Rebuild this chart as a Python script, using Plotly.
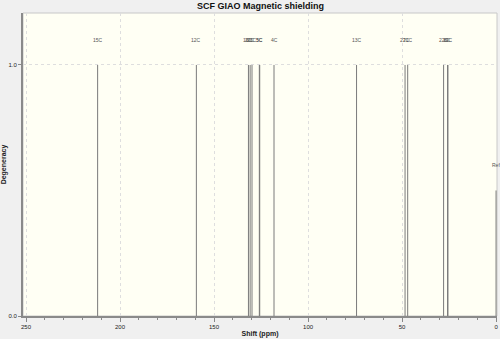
import plotly.graph_objects as go

# Data
shifts = [211.9, 159.4, 131.7, 130.8, 129.8, 125.9, 125.7, 118.1, 74.2, 48.4, 47.0, 27.9, 25.8, 25.6]
degeneracy = [1, 1, 1, 1, 1, 1, 1, 1, 1, 1, 1, 1, 1, 1]
labels = ["15C", "12C", "16C", "20C", "23C", "3C", "5C", "4C", "13C", "27C", "21C", "22C", "19C", "6C"]
ref_shift = [0.0]
ref_height = [0.5]
ref_label = ["Ref"]

xs, ys = [], []
for s, h in zip(shifts, degeneracy):
    xs += [s, s, None]
    ys += [0, h, None]

fig = go.Figure()
fig.add_trace(go.Scatter(x=xs, y=ys, mode="lines",
                         line=dict(color="#7a7a7a", width=1), hoverinfo="skip",
                         showlegend=False))
rx, ry = [], []
for s, h in zip(ref_shift, ref_height):
    rx += [s, s, None]
    ry += [0, h, None]
fig.add_trace(go.Scatter(x=rx, y=ry, mode="lines",
                         line=dict(color="#7a7a7a", width=1), hoverinfo="skip",
                         showlegend=False, cliponaxis=False))

annos = []
for s, h, t in list(zip(shifts, degeneracy, labels)) + list(zip(ref_shift, ref_height, ref_label)):
    annos.append(dict(x=s, y=h + 0.1, text=t, showarrow=False, xref="x", yref="y",
                      font=dict(size=5, color="#555", family="Liberation Sans"),
                      xanchor="center", yanchor="middle"))

annos.append(dict(x=0.5, y=1, xref="paper", yref="paper", yshift=7,
                  text="<b>SCF GIAO Magnetic shielding</b>", showarrow=False,
                  font=dict(size=9, color="#111", family="Liberation Sans"),
                  xanchor="center", yanchor="middle"))

fig.update_layout(
    width=500, height=339,
    margin=dict(l=22, r=2, t=13, b=22),
    paper_bgcolor="#f0f0f0",
    plot_bgcolor="#fffff4",
    annotations=annos,
    font=dict(family="Liberation Sans", size=6, color="#222"),
    shapes=[dict(type="rect", xref="paper", yref="paper", x0=0, y0=0, x1=1, y1=1,
                 line=dict(color="#c8c8c8", width=1), layer="below")],
)
fig.update_xaxes(
    range=[251.6, -0.5], tickvals=[250, 200, 150, 100, 50, 0],
    ticks="outside", ticklen=4, tickcolor="#888", tickwidth=1,
    minor=dict(dtick=10, tick0=0, ticks="outside", ticklen=2, tickcolor="#888", showgrid=False),
    showgrid=True, gridcolor="#dedede", griddash="dot", gridwidth=1,
    showline=True, linecolor="#8a8a8a", linewidth=2, zeroline=False,
    title=dict(text="<b>Shift (ppm)</b>", font=dict(size=7), standoff=2),
    tickfont=dict(size=6),
)
fig.update_yaxes(
    range=[0, 1.207], tickvals=[0, 1], ticktext=["0.0", "1.0"],
    ticks="outside", ticklen=3, tickcolor="#888",
    showgrid=True, gridcolor="#dedede", griddash="dot", gridwidth=1,
    showline=True, linecolor="#8a8a8a", linewidth=2, zeroline=False,
    title=dict(text="<b>Degeneracy</b>", font=dict(size=7), standoff=2),
    tickfont=dict(size=6),
)

fig.write_html("out.html")
